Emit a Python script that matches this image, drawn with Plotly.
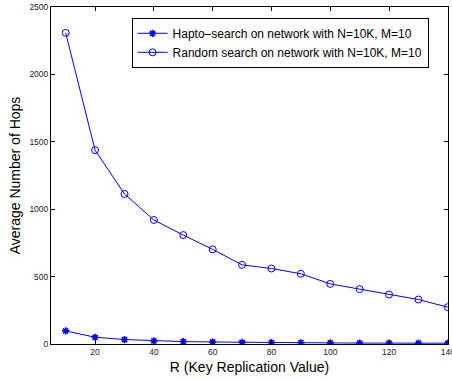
import plotly.graph_objects as go

r_values = [10, 20, 30, 40, 50, 60, 70, 80, 90, 100, 110, 120, 130, 140]
hapto_hops = [97, 50, 33, 23, 18, 15, 12, 10, 9, 8, 7, 7, 6, 6]
random_hops = [2308, 1438, 1113, 920, 808, 702, 587, 560, 521, 446, 407, 367, 330, 273]
x_ticks = [20, 40, 60, 80, 100, 120, 140]
y_ticks = [0, 500, 1000, 1500, 2000, 2500]

BLUE = "rgb(0,0,255)"
FONT = "Liberation Sans, Arial, sans-serif"

fig = go.Figure()
fig.add_trace(go.Scatter(
    x=r_values, y=hapto_hops, mode="lines+markers",
    name="Hapto\u2013search on network with N=10K, M=10",
    line=dict(color=BLUE, width=1),
    marker=dict(symbol="asterisk-open", size=6, color=BLUE,
                line=dict(color=BLUE, width=1.6)),
))
fig.add_trace(go.Scatter(
    x=r_values, y=random_hops, mode="lines+markers",
    name="Random search on network with N=10K, M=10",
    line=dict(color=BLUE, width=1),
    marker=dict(symbol="circle-open", size=7, color=BLUE,
                line=dict(color=BLUE, width=1)),
))

axis_common = dict(
    showgrid=False, zeroline=False, showline=True, linecolor="black",
    linewidth=1, mirror="ticks", ticks="inside", ticklen=4,
    tickcolor="black", tickfont=dict(family=FONT, size=8.5, color="#222"),
    ticklabeloverflow="allow", automargin=False,
)
fig.update_layout(
    width=452, height=381,
    margin=dict(l=51, r=4, t=7, b=37),
    paper_bgcolor="white", plot_bgcolor="white",
    font=dict(family=FONT),
    xaxis=dict(range=[5, 140.05], tickvals=x_ticks,
               title=dict(text="R (Key Replication Value)",
                          font=dict(family=FONT, size=14, color="black"),
                          standoff=5),
               **axis_common),
    yaxis=dict(range=[0, 2500], tickvals=y_ticks,
               title=dict(text="Average Number of Hops",
                          font=dict(family=FONT, size=14, color="black"),
                          standoff=5),
               **axis_common),
    legend=dict(x=0.203, y=0.968, xanchor="left", yanchor="top",
                bgcolor="white", bordercolor="black", borderwidth=1,
                font=dict(family=FONT, size=12, color="black"),
                tracegroupgap=0, itemwidth=30),
    showlegend=True,
)

fig.write_html("out.html")
